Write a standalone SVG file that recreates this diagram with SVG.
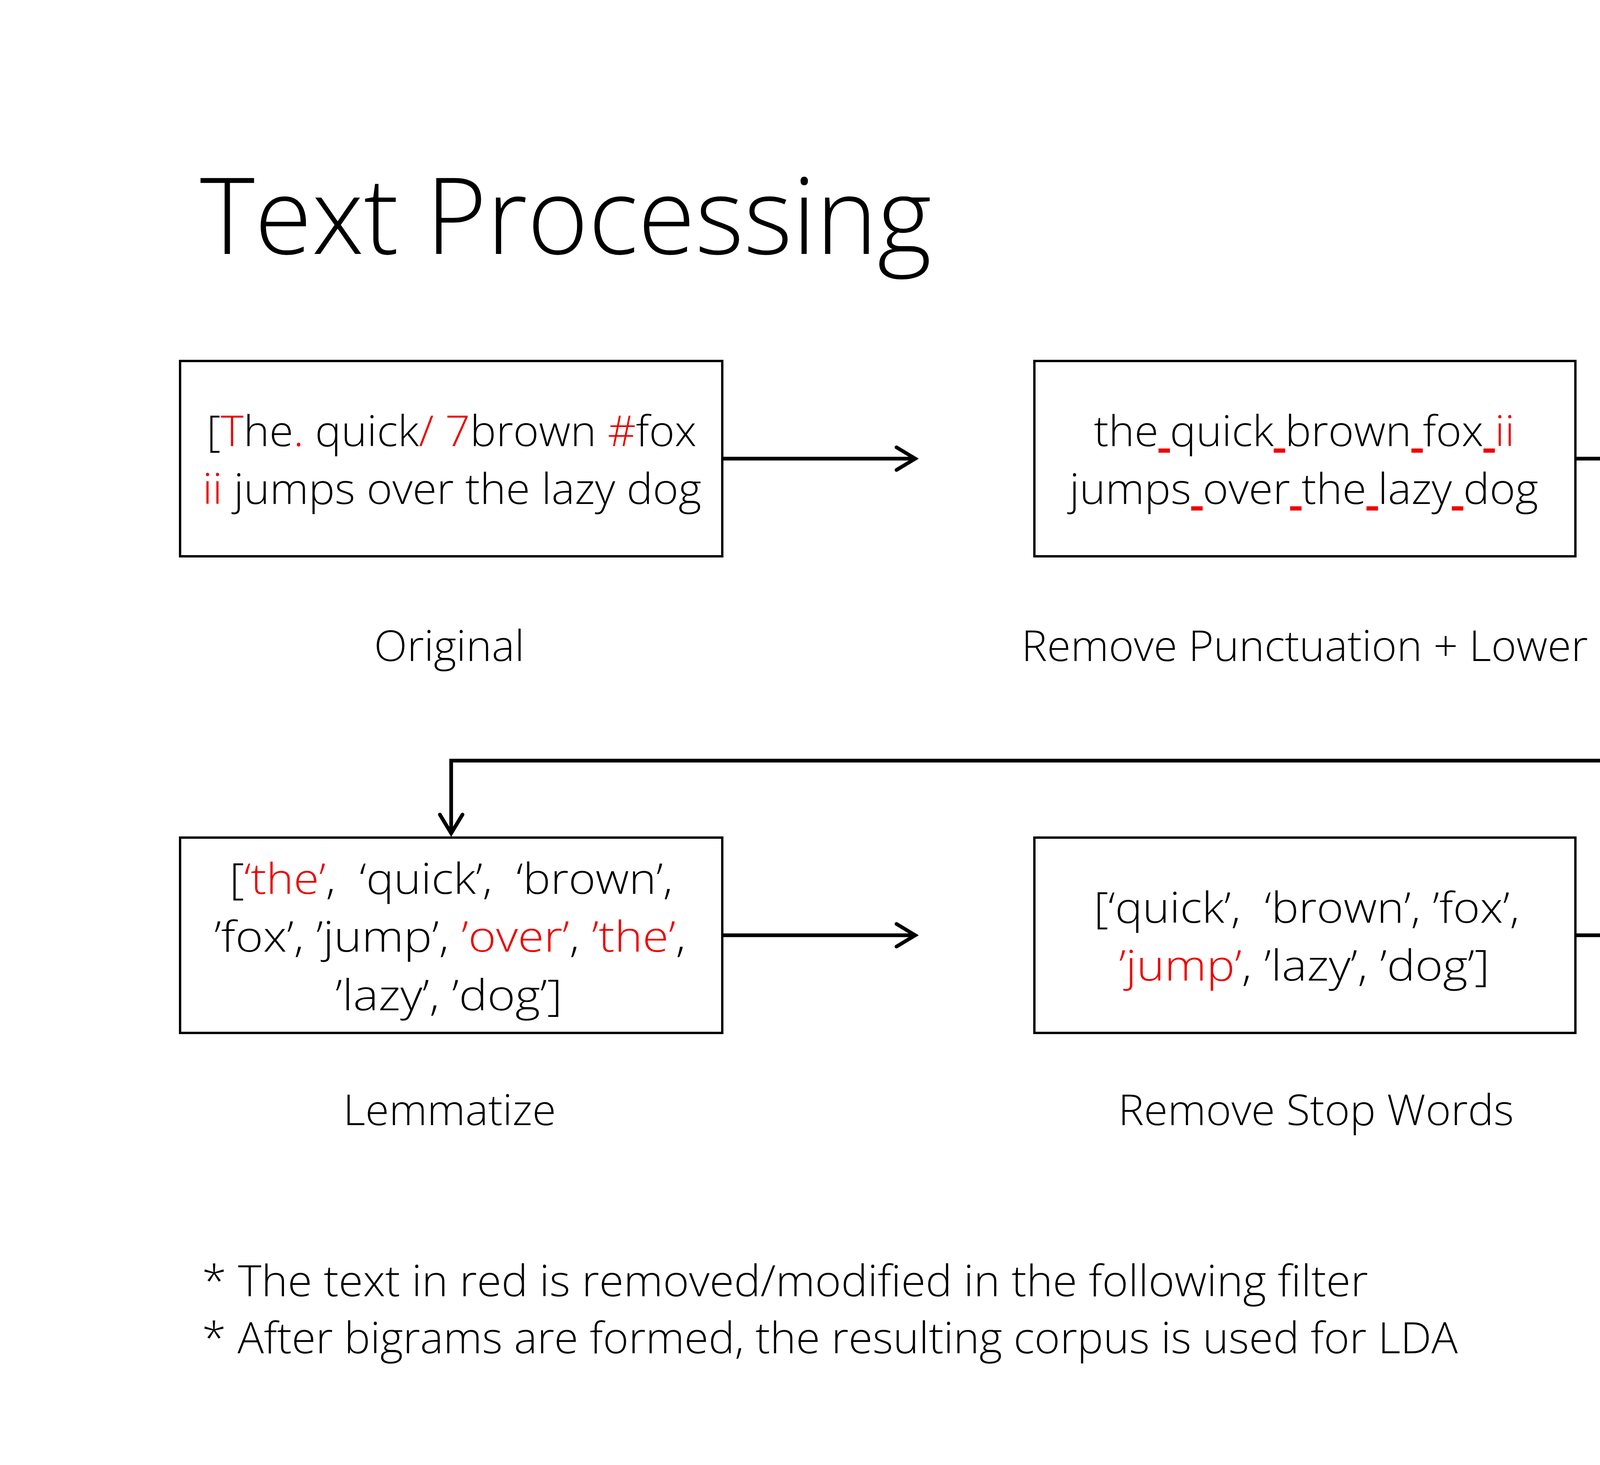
<svg xmlns="http://www.w3.org/2000/svg" width="6666" height="3750" viewBox="0 0 6666 3750">
<style>
.bg{fill:#ffffff}
.box{fill:#ffffff;stroke:#000000;stroke-width:6}
.t{font-family:"Open Sans","Noto Sans","Liberation Sans",sans-serif;font-weight:300;font-size:108px;fill:#000000;text-anchor:middle}
.title{font-family:"Open Sans","Noto Sans","Liberation Sans",sans-serif;font-weight:300;font-size:272px;fill:#000000}
.note{font-family:"Open Sans","Noto Sans","Liberation Sans",sans-serif;font-weight:300;font-size:110px;fill:#000000}
.r{fill:#EE0000}
.u{text-decoration:underline}
.conn{fill:none;stroke:#000000;stroke-width:9.5;marker-end:url(#arr)}
</style>
<defs>
<marker id="arr" markerUnits="userSpaceOnUse" viewBox="-70 -45 90 90" markerWidth="90" markerHeight="90" refX="0" refY="0" orient="auto" overflow="visible">
<path d="M-48,-29 L0,0 L-48,29" fill="none" stroke="#000000" stroke-width="9.5" stroke-linecap="round" stroke-linejoin="miter"/>
</marker>
</defs>
<rect class="bg" x="0" y="0" width="6666" height="3750"/>
<text id="title" class="title" x="512" y="650" textLength="1873" lengthAdjust="spacingAndGlyphs">Text Processing</text>

<g id="connectors">
<path class="conn" d="M1852,1174 H2343"/>
<path class="conn" d="M4036,1174 H4533"/>
<path class="conn" d="M5542,1749 V1947 H1155 V2133"/>
<path class="conn" d="M1852,2394 H2343"/>
<path class="conn" d="M4036,2394 H4533"/>
</g>

<g id="node-original">
<rect class="box" x="461" y="924" width="1388" height="500"/>
<text class="t" x="1156" y="1142" textLength="1254" lengthAdjust="spacingAndGlyphs">[<tspan class="r">T</tspan>he<tspan class="r">.</tspan> quick<tspan class="r">/</tspan> <tspan class="r">7</tspan>brown <tspan class="r">#</tspan>fox</text>
<text class="t" x="1157" y="1290" textLength="1277" lengthAdjust="spacingAndGlyphs"><tspan class="r">ii</tspan> jumps over the lazy dog</text>
<text class="t" x="1150" y="1692" textLength="385" lengthAdjust="spacingAndGlyphs">Original</text>
</g>

<g id="node-punct">
<rect class="box" x="2648" y="924" width="1385" height="500"/>
<text class="t" x="3339" y="1142" textLength="1077" lengthAdjust="spacingAndGlyphs">the<tspan class="r u"> </tspan>quick<tspan class="r u"> </tspan>brown<tspan class="r u"> </tspan>fox<tspan class="r u"> </tspan><tspan class="r">ii</tspan></text>
<text class="t" x="3338" y="1290" textLength="1200" lengthAdjust="spacingAndGlyphs">jumps<tspan class="r u"> </tspan>over<tspan class="r u"> </tspan>the<tspan class="r u"> </tspan>lazy<tspan class="r u"> </tspan>dog</text>
<text class="t" x="3340" y="1692" textLength="1450" lengthAdjust="spacingAndGlyphs">Remove Punctuation + Lower</text>
</g>

<g id="node-tokenize">
<rect class="box" x="4839" y="924" width="1384" height="500"/>
<text class="t" x="5535" y="1068" xml:space="preserve" textLength="1135" lengthAdjust="spacingAndGlyphs">[‘the’,  ‘quick’,  ‘brown’,</text>
<text class="t" x="5529" y="1216" textLength="1252" lengthAdjust="spacingAndGlyphs">’fox’, <tspan class="r">’jumps’</tspan>, ’over’, ’the’,</text>
<text class="t" x="5526" y="1366" textLength="574" lengthAdjust="spacingAndGlyphs">’lazy’, ’dog’]</text>
<text class="t" x="5533" y="1692" textLength="1557" lengthAdjust="spacingAndGlyphs">Tokenize + Remove Non-Words</text>
</g>

<g id="node-lemmatize">
<rect class="box" x="461" y="2144" width="1388" height="500"/>
<text class="t" x="1155" y="2288" xml:space="preserve" textLength="1135" lengthAdjust="spacingAndGlyphs">[<tspan class="r">‘the’</tspan>,  ‘quick’,  ‘brown’,</text>
<text class="t" x="1152" y="2436" textLength="1207" lengthAdjust="spacingAndGlyphs">’fox’, ’jump’, <tspan class="r">’over’</tspan>, <tspan class="r">’the’</tspan>,</text>
<text class="t" x="1149" y="2586" textLength="581" lengthAdjust="spacingAndGlyphs">’lazy’, ’dog’]</text>
<text class="t" x="1151" y="2880" textLength="545" lengthAdjust="spacingAndGlyphs">Lemmatize</text>
</g>

<g id="node-stopwords">
<rect class="box" x="2648" y="2144" width="1385" height="500"/>
<text class="t" x="3345" y="2362" xml:space="preserve" textLength="1090" lengthAdjust="spacingAndGlyphs">[‘quick’,  ‘brown’, ’fox’,</text>
<text class="t" x="3339" y="2510" textLength="949" lengthAdjust="spacingAndGlyphs"><tspan class="r">’jump’</tspan>, ’lazy’, ’dog’]</text>
<text class="t" x="3369" y="2880" textLength="1013" lengthAdjust="spacingAndGlyphs">Remove Stop Words</text>
</g>

<g id="node-nouns">
<rect class="box" x="4839" y="2144" width="1384" height="500"/>
<text class="t" x="5532" y="2362" xml:space="preserve" textLength="1090" lengthAdjust="spacingAndGlyphs">[‘quick’,  ‘brown’, ’fox’,</text>
<text class="t" x="5526" y="2510" textLength="574" lengthAdjust="spacingAndGlyphs">’lazy’, ’dog’]</text>
<text class="t" x="5544" y="2880" textLength="816" lengthAdjust="spacingAndGlyphs">Get Nouns + Adj</text>
</g>

<g id="footnotes">
<text class="note" x="517" y="3318" textLength="2985" lengthAdjust="spacingAndGlyphs">* The text in red is removed/modified in the following filter</text>
<text class="note" x="517" y="3464" textLength="3215" lengthAdjust="spacingAndGlyphs">* After bigrams are formed, the resulting corpus is used for LDA</text>
</g>
</svg>
